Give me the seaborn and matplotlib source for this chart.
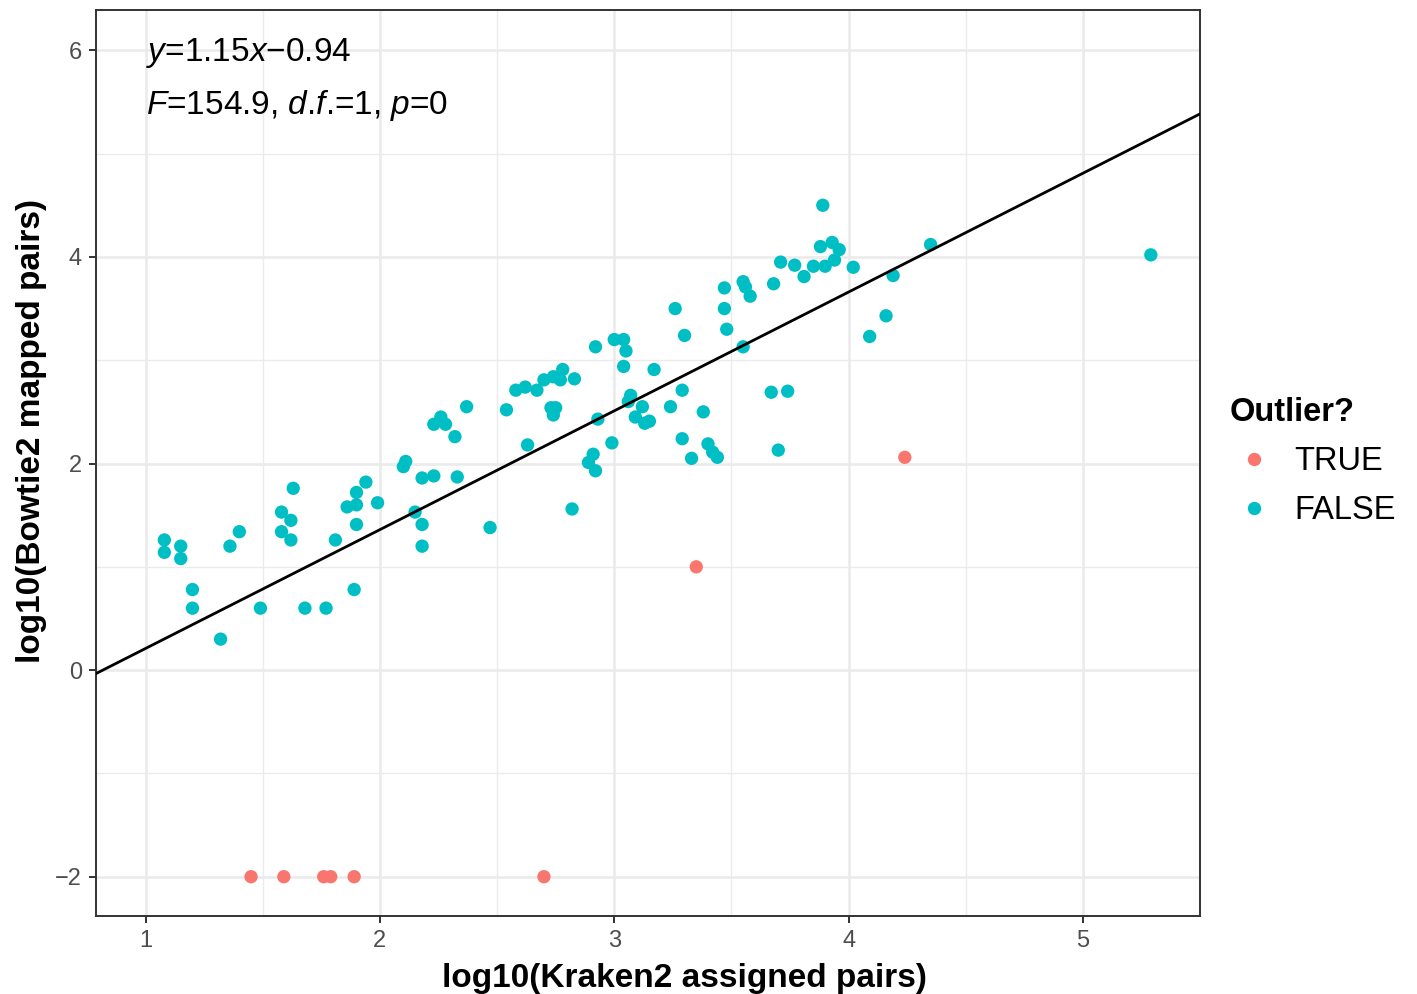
import matplotlib
matplotlib.use("Agg")
import matplotlib.pyplot as plt
import numpy as np
import pandas as pd
import seaborn as sns

# log10 Kraken2 assigned pairs vs log10 Bowtie2 mapped pairs
kraken_false = [
    1.08, 1.08, 1.15, 1.15, 1.20, 1.20, 1.32, 1.36, 1.40, 1.49,
    1.58, 1.58, 1.62, 1.62, 1.63, 1.68, 1.77, 1.81, 1.86, 1.89,
    1.90, 1.90, 1.90, 1.94, 1.99, 2.10, 2.11, 2.15, 2.18, 2.18,
    2.18, 2.23, 2.23, 2.28, 2.32, 2.33, 2.47, 2.26, 2.37, 2.54,
    2.58, 2.62, 2.63, 2.67, 2.70, 2.73, 2.74, 2.75, 2.74, 2.77,
    2.78, 2.82, 2.83, 2.89, 2.91, 2.92, 2.92, 2.93, 2.99, 3.00,
    3.04, 3.05, 3.04, 3.06, 3.07, 3.09, 3.12, 3.13, 3.15, 3.17,
    3.24, 3.26, 3.29, 3.30, 3.29, 3.33, 3.38, 3.40, 3.42, 3.44,
    3.47, 3.47, 3.48, 3.55, 3.56, 3.55, 3.58, 3.67, 3.68, 3.70,
    3.71, 3.74, 3.77, 3.81, 3.85, 3.88, 3.89, 3.90, 3.93, 3.94,
    3.96, 4.02, 4.09, 4.16, 4.19, 4.35, 5.29,
]
bowtie_false = [
    1.26, 1.14, 1.20, 1.08, 0.78, 0.60, 0.30, 1.20, 1.34, 0.60,
    1.53, 1.34, 1.45, 1.26, 1.76, 0.60, 0.60, 1.26, 1.58, 0.78,
    1.72, 1.60, 1.41, 1.82, 1.62, 1.97, 2.02, 1.53, 1.41, 1.20,
    1.86, 2.38, 1.88, 2.38, 2.26, 1.87, 1.38, 2.45, 2.55, 2.52,
    2.71, 2.74, 2.18, 2.71, 2.81, 2.54, 2.84, 2.54, 2.47, 2.81,
    2.91, 1.56, 2.82, 2.01, 2.09, 1.93, 3.13, 2.43, 2.20, 3.20,
    3.20, 3.09, 2.94, 2.60, 2.66, 2.45, 2.55, 2.39, 2.41, 2.91,
    2.55, 3.50, 2.71, 3.24, 2.24, 2.05, 2.50, 2.19, 2.11, 2.06,
    3.50, 3.70, 3.30, 3.76, 3.71, 3.13, 3.62, 2.69, 3.74, 2.13,
    3.95, 2.70, 3.92, 3.81, 3.91, 4.10, 4.50, 3.91, 4.14, 3.97,
    4.07, 3.90, 3.23, 3.43, 3.82, 4.12, 4.02,
]
kraken_true = [1.45, 1.59, 1.76, 1.79, 1.89, 2.70, 3.35, 4.24]
bowtie_true = [-2.00, -2.00, -2.00, -2.00, -2.00, -2.00, 1.00, 2.06]

# fit shown on the chart
slope = 1.15
intercept = -0.94
f_stat = 154.9
df_val = 1
p_val = 0

x_ticks = [1, 2, 3, 4, 5]
y_ticks = [-2, 0, 2, 4, 6]

df = pd.DataFrame({
    "kraken": kraken_true + kraken_false,
    "bowtie": bowtie_true + bowtie_false,
    "outlier": ["TRUE"] * len(kraken_true) + ["FALSE"] * len(kraken_false),
})

sns.set_theme(style="white")
plt.rcParams["font.family"] = ["Liberation Sans", "DejaVu Sans"]
plt.rcParams["mathtext.fontset"] = "custom"
plt.rcParams["mathtext.rm"] = "Liberation Sans"
plt.rcParams["mathtext.it"] = "Liberation Sans:italic"
plt.rcParams["text.color"] = "black"
plt.rcParams["axes.labelcolor"] = "black"

fig = plt.figure(figsize=(14.17, 9.94), dpi=100)
ax = fig.add_axes([0.0677, 0.0785, 0.8469 - 0.0677, 0.9899 - 0.0785])

sns.scatterplot(
    data=df, x="kraken", y="bowtie", hue="outlier",
    hue_order=["TRUE", "FALSE"],
    palette={"TRUE": "#F8766D", "FALSE": "#00BFC4"},
    s=92, linewidth=0, ax=ax, zorder=3,
)

ax.axline((0, intercept), slope=slope, color="black", lw=2.0, zorder=4)

ax.set_xlim(0.788, 5.50)
ax.set_ylim(-2.38, 6.39)
ax.set_xticks(x_ticks)
ax.set_yticks(y_ticks)
ax.set_xticks([1.5, 2.5, 3.5, 4.5], minor=True)
ax.set_yticks([-1, 1, 3, 5], minor=True)
ax.grid(which="major", color="#EBEBEB", lw=1.9, zorder=0)
ax.grid(which="minor", color="#EBEBEB", lw=1.0, zorder=0)
ax.set_axisbelow(True)
for sp in ax.spines.values():
    sp.set_color("#333333")
    sp.set_linewidth(1.4)

ax.tick_params(axis="both", which="major", bottom=True, left=True,
               length=5, width=1.4, color="#333333",
               labelsize=17, labelcolor="#4D4D4D")
ax.tick_params(axis="x", pad=5)
ax.tick_params(axis="y", pad=5)
ax.tick_params(which="minor", length=0)

ax.set_xlabel("log10(Kraken2 assigned pairs)", fontsize=24, fontweight="bold")
ax.set_ylabel("log10(Bowtie2 mapped pairs)", fontsize=24, fontweight="bold")
# title centres as placed in the reference
ax.xaxis.set_label_coords((684 - 96) / 1104, -0.052)
ax.yaxis.set_label_coords(-0.044, (916 - 431) / 906)

ax.text(1, 5.97, r"$\mathit{y}$=%.2f$\mathit{x}$−%.2f" % (slope, -intercept),
        fontsize=24, ha="left", va="center")
ax.text(1, 5.47, r"$\mathit{F}$=%.1f, $\mathit{d}$.$\mathit{f}$.=%d, $\mathit{p}$=%d"
        % (f_stat, df_val, p_val),
        fontsize=24, ha="left", va="center")

sns.move_legend(
    ax, loc="center left", bbox_to_anchor=(1.0147, 0.5015), frameon=False,
    title="Outlier?", fontsize=23.5, title_fontsize=23.5,
    alignment="left", labelspacing=0.55, handletextpad=0.46,
    handlelength=1.53, markerscale=1.0, borderaxespad=0,
)
leg = ax.get_legend()
leg.get_title().set_fontweight("bold")

fig.savefig("out.png", dpi=100)
